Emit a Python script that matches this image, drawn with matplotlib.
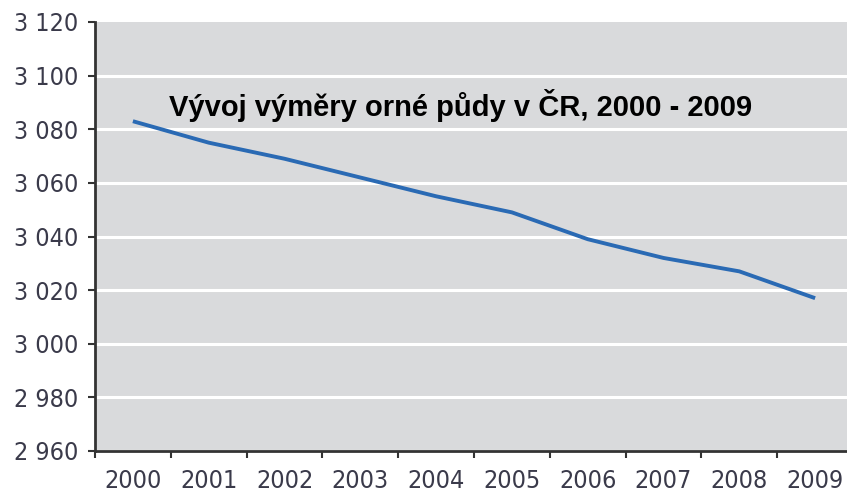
import matplotlib
matplotlib.use("Agg")
import matplotlib.pyplot as plt
from matplotlib import font_manager as fm
from matplotlib.ticker import FixedLocator, FuncFormatter

# data (thousand ha of arable land)
years = ["2000", "2001", "2002", "2003", "2004", "2005", "2006", "2007", "2008", "2009"]
area = [3083, 3075, 3069, 3062, 3055, 3049, 3039, 3032, 3027, 3017]
y_ticks = [2960, 2980, 3000, 3020, 3040, 3060, 3080, 3100, 3120]
title = "Vývoj výměry orné půdy v ČR, 2000 - 2009"

# look for a condensed / narrow regular face for the tick labels
narrow = None
for f in fm.fontManager.ttflist:
    fn = f.fname.lower()
    if ("condensed" in fn or "narrow" in fn) and f.weight in (400, "normal", "regular") \
            and f.style == "normal" and "semi" not in fn and "extra" not in fn:
        narrow = f.fname
        break
if narrow:
    tick_prop = fm.FontProperties(fname=narrow, size=18)
else:
    tick_prop = fm.FontProperties(family="Liberation Sans", size=18)

fig = plt.figure(figsize=(8.47, 4.96), dpi=100)
ax = fig.add_axes([95 / 847, 45 / 496, 758 / 847, 429 / 496])

ax.set_facecolor("#d9dadc")
x = list(range(len(years)))
ax.plot(x, area, color="#2a6ab4", linewidth=2.8, solid_capstyle="butt", zorder=3)

ax.set_xlim(-0.5, len(years) - 0.5)
ax.set_ylim(y_ticks[0], y_ticks[-1])

# y axis
ax.set_yticks(y_ticks)
ax.yaxis.set_major_formatter(FuncFormatter(lambda v, p: f"{int(v):,}".replace(",", " ")))
ax.yaxis.grid(True, color="white", linewidth=2.2)
ax.get_ygridlines()[-1].set_visible(False)
ax.set_axisbelow(True)

# x axis: ticks between categories, labels centered
ax.xaxis.set_major_locator(FixedLocator([i - 0.5 for i in range(len(years) + 1)]))
ax.xaxis.set_major_formatter(FuncFormatter(lambda v, p: ""))
ax.set_xticks(x, years, minor=True)

ax.tick_params(axis="y", which="major", direction="out", length=5, width=1.5,
               color="#333333", pad=7, labelcolor="#3a3a4a")
ax.tick_params(axis="x", which="major", direction="out", length=5, width=1.5,
               color="#333333")
ax.tick_params(axis="x", which="minor", length=0, pad=13, labelcolor="#3a3a4a")
for lab in ax.get_yticklabels() + ax.get_xticklabels(minor=True):
    lab.set_fontproperties(tick_prop)

for side in ["top", "right"]:
    ax.spines[side].set_visible(False)
for side in ["left", "bottom"]:
    ax.spines[side].set_color("#333333")
    ax.spines[side].set_linewidth(2)

fig.text(461 / 847, 1 - 106 / 496, title, ha="center", va="center",
         fontsize=21, fontweight="bold", family="Liberation Sans", color="black")

fig.savefig("out.png", dpi=100)
